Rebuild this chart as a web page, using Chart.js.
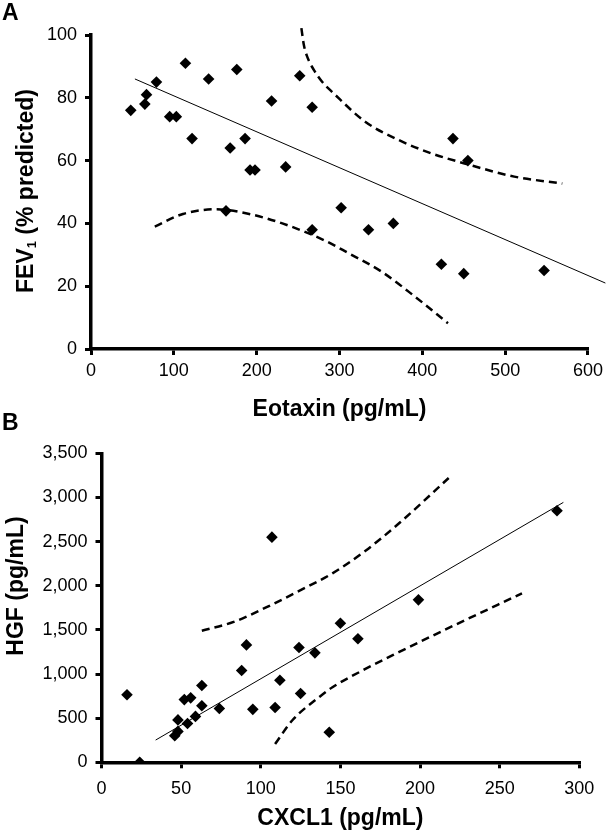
<!DOCTYPE html>
<html>
<head>
<meta charset="utf-8">
<script src="https://cdn.jsdelivr.net/npm/chart.js@4.4.1/dist/chart.umd.min.js"></script>
<style>
  body { margin: 0; background: #fff; }
  #wrap { position: relative; width: 608px; height: 832px; overflow: hidden; font-family: 'Liberation Sans', Arial, sans-serif; color: #000; }
  canvas { position: absolute; left: 0; }
  .panel { position: absolute; left: 2px; font-weight: bold; font-size: 23px; line-height: 1; }
  .ytitle { position: absolute; font-weight: bold; font-size: 23px; line-height: 1; white-space: nowrap; transform: translate(-50%, -50%) rotate(-90deg); }
  .ytitle sub { font-size: 13px; line-height: 0; vertical-align: -3px; }
</style>
</head>
<body>
<div id="wrap">
  <canvas id="chart-a" width="608" height="424" style="top:0"></canvas>
  <canvas id="chart-b" width="608" height="420" style="top:412px"></canvas>
  <div class="panel" style="top:1px">A</div>
  <div class="panel" style="top:411px">B</div>
  <div class="ytitle" style="left:25px; top:191px">FEV<sub>1</sub> (% predicted)</div>
  <div class="ytitle" style="left:15px; top:586px">HGF (pg/mL)</div>
</div>
<script>
// panel A: eotaxin vs FEV1
const eotaxin = [48, 65, 67, 79, 95, 103, 114, 122, 142, 168, 176, 163, 186, 192, 198, 218, 235, 252, 267, 267, 302, 335, 365, 437, 455, 423, 450, 547];
const fev1 = [76, 78, 81, 85, 74, 74, 91, 67, 86, 64, 89, 44, 67, 57, 57, 79, 58, 87, 77, 38, 45, 38, 40, 67, 60, 27, 24, 25];
const fitAX = [53, 621];
const fitAY = [86, 21];
const upperAX = [254, 257, 261, 269, 279, 293, 331, 371, 411, 451, 511, 569];
const upperAY = [102.2, 96.8, 93.1, 88.9, 85.1, 81.4, 72.4, 66.6, 62.3, 59.1, 54.9, 52.7];
const lowerAX = [77, 111, 151, 191, 231, 281, 311, 351, 391, 431];
const lowerAY = [39, 43, 44.5, 43, 40, 34.7, 30.5, 24.6, 16.7, 8.2];

// panel B: CXCL1 vs HGF
const cxcl1 = [16, 24, 46, 48, 48, 54, 52, 56, 59, 63, 63, 74, 88, 91, 95, 107, 109, 112, 124, 125, 134, 150, 161, 143, 199, 286];
const hgf = [765, 0, 300, 350, 480, 440, 710, 730, 520, 640, 870, 610, 1040, 1330, 600, 2550, 620, 930, 1300, 780, 1240, 1575, 1400, 340, 1840, 2850];
const fitBX = [34, 290];
const fitBY = [252, 2944];
const upperBX = [63, 83, 104, 125, 145, 166, 187, 218];
const upperBY = [1490, 1590, 1760, 1950, 2140, 2400, 2710, 3220];
const lowerBX = [109, 120, 137, 145, 166, 187, 219, 264];
const lowerBY = [207, 479, 743, 850, 1060, 1250, 1530, 1914];

const tickFont = {family: "'Liberation Sans', Arial, sans-serif", size: 18};
const titleFont = {family: "'Liberation Sans', Arial, sans-serif", size: 23, weight: 'bold', lineHeight: 1};

function pointsOf(xs, ys) {
    return xs.map((x, i) => ({x: x, y: ys[i]}));
}

function scatterSet(xs, ys) {
    return {data: pointsOf(xs, ys), showLine: false, pointStyle: 'rectRot', pointRadius: 5.8, pointHoverRadius: 5.8,
            backgroundColor: '#000', borderWidth: 0};
}

function lineSet(xs, ys, dashed) {
    return {data: pointsOf(xs, ys), showLine: true, borderColor: '#000', borderWidth: dashed ? 2.5 : 1,
            borderDash: dashed ? [8, 5] : [], pointRadius: 0, cubicInterpolationMode: 'monotone', clip: false};
}

function axis(min, max, step, pad, size, horizontal, title) {
    return {
        type: 'linear', min: min, max: max,
        ticks: {stepSize: step, padding: pad, color: '#000', font: tickFont, maxRotation: 0, autoSkip: false,
                callback: v => v.toLocaleString('en-US')},
        grid: {drawOnChartArea: false, tickLength: 6, color: '#000', lineWidth: 3},
        border: {color: '#000', width: 3.5},
        title: {display: !!title, text: title, color: '#000', font: titleFont, padding: 0},
        afterFit: s => { if (horizontal) s.height = size; else s.width = size; }
    };
}

function makeChart(id, datasets, scales, padding) {
    return new Chart(document.getElementById(id), {
        type: 'scatter',
        data: {datasets: datasets},
        options: {
            responsive: false, animation: false, devicePixelRatio: 1, events: [],
            layout: {padding: padding},
            scales: scales,
            plugins: {legend: {display: false}, tooltip: {enabled: false}}
        }
    });
}

makeChart('chart-a',
    [scatterSet(eotaxin, fev1), lineSet(fitAX, fitAY, false), lineSet(upperAX, upperAY, true), lineSet(lowerAX, lowerAY, true)],
    {x: axis(0, 600, 100, 5, 72.5, true, 'Eotaxin (pg/mL)'), y: axis(0, 100, 20, 8, 91, false, '')},
    {top: 35, right: 17, bottom: 2.5, left: 0});

makeChart('chart-b',
    [scatterSet(cxcl1, hgf), lineSet(fitBX, fitBY, false), lineSet(upperBX, upperBY, true), lineSet(lowerBX, lowerBY, true)],
    {x: axis(0, 300, 50, 10, 68.2, true, 'CXCL1 (pg/mL)'), y: axis(0, 3500, 500, 8, 101.5, false, '')},
    {top: 41.3, right: 28.7, bottom: 1.5, left: 0});
</script>
</body>
</html>
